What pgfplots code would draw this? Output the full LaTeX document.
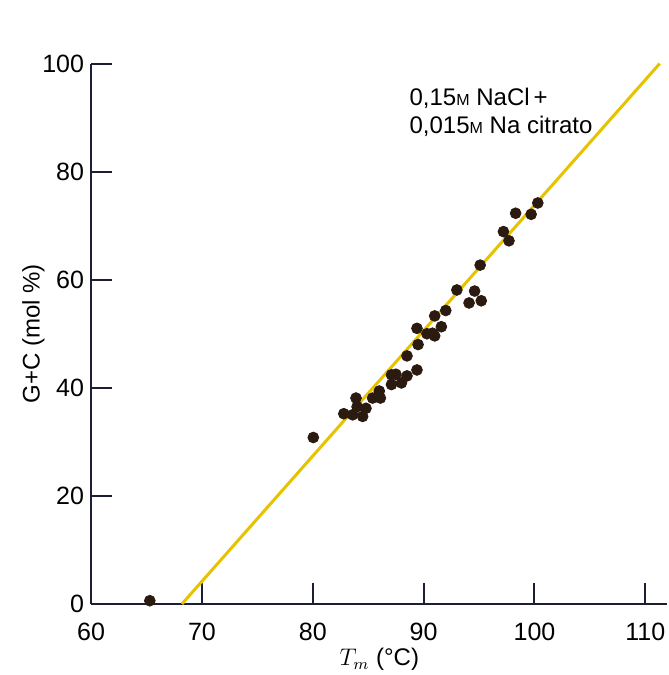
\documentclass[border=0pt]{standalone}
\usepackage{fontspec}
\setmainfont{Liberation Sans}
\usepackage{pgfplots}
\pgfplotsset{compat=1.18}
\definecolor{axisblue}{HTML}{1C1E33}
\definecolor{lineyellow}{HTML}{E6C200}
\definecolor{dotbrown}{HTML}{2B1A10}

\begin{document}
\begin{tikzpicture}
  % Tm e contenuto G+C, 0,15 M NaCl + 0,015 M Na citrato
  \begin{axis}[
      scale only axis,
      width=288pt, height=270pt,
      xmin=60, xmax=112, ymin=0, ymax=100,
      axis x line*=bottom, axis y line*=left,
      axis line style={axisblue, line width=1pt, -},
      xtick={60,70,...,110}, ytick={0,20,...,100},
      tick align=inside,
      major tick length=10.5pt,
      tick style={axisblue, line width=1pt},
      /pgf/number format/assume math mode=true,
      tick label style={font=\fontsize{12.5}{14}\selectfont},
      xticklabel style={yshift=-6pt},
      xlabel={$T_m$ (°C)},
      xlabel style={yshift=3pt},
      ylabel={G+C (mol \%)},
      ylabel style={yshift=-8pt},
      label style={font=\fontsize{12}{14}\selectfont},
      clip=false,
    ]
    \addplot[lineyellow, line width=1.5pt] coordinates {(68.2,0) (111.3,100)};
    \addplot[only marks, mark=*, mark size=2.7pt, color=dotbrown]
      coordinates {
        (65.3,0.6)
        (80.05,30.8) (82.8,35.2) (83.6,35.0) (83.9,38.1) (84.0,36.5)
        (84.5,34.7)  (84.8,36.2) (85.4,38.1) (86.0,39.4) (86.1,38.1)
        (87.1,40.6)  (87.5,42.5) (87.1,42.4) (88.0,40.9) (88.5,42.2)
        (88.5,45.9)  (89.4,43.3) (89.5,48.0) (89.4,51.0) (90.3,50.0)
        (91.0,49.6)  (90.8,50.1) (91.6,51.3) (91.0,53.3) (92.0,54.3)
        (93.0,58.1)  (94.1,55.7) (94.6,57.9) (95.2,56.1) (95.1,62.7)
        (97.2,68.9)  (97.7,67.2) (98.3,72.3) (99.7,72.1) (100.3,74.2)
      };
    \node[anchor=west, align=left, font=\fontsize{12}{14}\selectfont, inner sep=0pt]
      at (axis cs:88.7,91.0)
      {0,15{\footnotesize M} NaCl\,+\\0,015{\footnotesize M} Na citrato};
    \coordinate (bl) at (rel axis cs:0,0);
    \coordinate (tr) at (rel axis cs:1,1);
  \end{axis}
  \pgfresetboundingbox
  \path ([shift={(-45.5pt,-35.5pt)}]bl) rectangle ([shift={(0.5pt,31.75pt)}]tr);
\end{tikzpicture}
\end{document}
